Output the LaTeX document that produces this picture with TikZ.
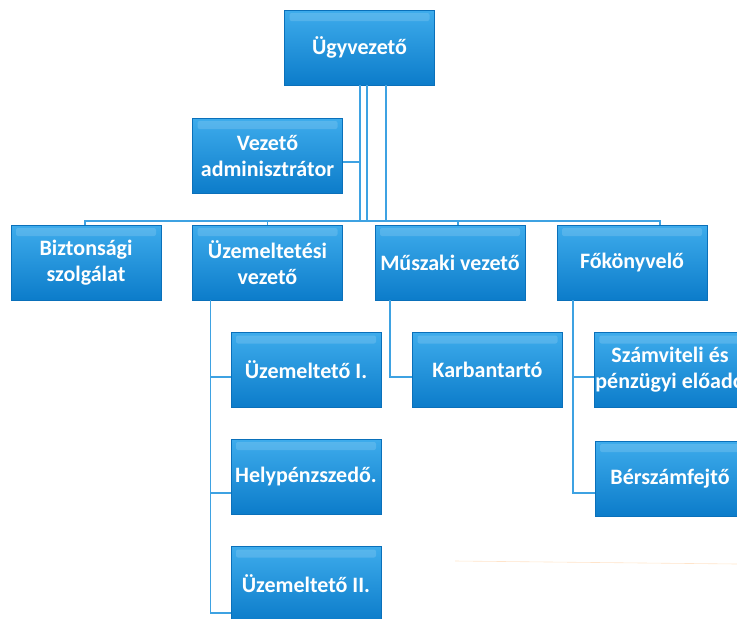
\documentclass[tikz,border=0pt]{standalone}
\usepackage{fontspec}
\setmainfont{Carlito}
\definecolor{boxtop}{RGB}{62,172,236}
\definecolor{boxmid}{RGB}{22,146,222}
\definecolor{boxbot}{RGB}{12,124,202}
\definecolor{boxedge}{RGB}{10,112,186}
\definecolor{linkblue}{RGB}{62,162,226}
\begin{document}
\begin{tikzpicture}[x=1pt,y=-1pt,
        unit/.style = {draw = boxedge, line width = 0.8pt,
            top color = boxtop, middle color = boxmid, bottom color = boxbot,
            minimum width = 150pt, minimum height = 75pt, inner sep = 1pt,
            align = center, text = white,
            font = \bfseries\fontsize{22}{26}\selectfont,
            path picture = {\fill[white, opacity = 0.14, rounded corners = 2pt]
                ([xshift = 5pt, yshift = -3pt]path picture bounding box.north west) rectangle
                ([xshift = -5pt, yshift = -11pt]path picture bounding box.north east);}},
        link/.style = {draw = linkblue, line width = 1.6pt}]
    \useasboundingbox (0,0) rectangle (737,619);
    \clip (0,0) rectangle (737,619);
    \coordinate (bus) at (360,221);
    \node[unit] (ugy) at (359.5,47.5) {Ügyvezető};
    \node[unit] (adm) at (267.5,155.5) {Vezető\\adminisztrátor};
    \node[unit] (bizt) at (86,262.5) {Biztonsági\\szolgálat};
    \node[unit] (uzvez) at (267.5,262.5) {Üzemeltetési\\vezető};
    \node[unit] (musz) at (450,262.5) {Műszaki vezető};
    \node[unit] (fok) at (632,262.5) {Főkönyvelő};
    \node[unit] (uz1) at (306,370) {Üzemeltető I.};
    \node[unit] (hely) at (306,476.5) {Helypénzszedő.};
    \node[unit] (uz2) at (306,584) {Üzemeltető II.};
    \node[unit] (karb) at (487.5,370) {Karbantartó};
    \node[unit] (szam) at (670,370) {Számviteli és\\pénzügyi előadó};
    \node[unit] (bers) at (670,478.5) {Bérszámfejtő};
    \begin{scope}[link]
        \draw ([xshift = 0.5pt]ugy.south) -- ([xshift = 0.5pt]ugy.south |- bus);
        \draw ([xshift = 7.5pt]ugy.south) -- ([xshift = 7.5pt]ugy.south |- bus);
        \draw ([xshift = 26.5pt]ugy.south) -- ([xshift = 26.5pt]ugy.south |- bus);
        \draw ([yshift = -6.5pt]adm.east) -- ([yshift = -6.5pt]adm.east -| bus);
        \draw ([xshift = -1pt]bizt.north) |- (bus) -| ([xshift = 28pt]fok.north);
        \draw (uzvez.north) -- (uzvez.north |- bus);
        \draw ([xshift = 8pt]musz.north) -- ([xshift = 8pt]musz.north |- bus);
        % hanging children
        \draw ([xshift = -57pt]uzvez.south) |- ([yshift = -29pt]uz2.west);
        \draw ([xshift = -57pt]uzvez.south |- uz1.west) ++(0,7) -- ([yshift = -7pt]uz1.west);
        \draw ([xshift = -57pt]uzvez.south |- hely.west) ++(0,16.5) -- ([yshift = -16.5pt]hely.west);
        \draw ([xshift = -60pt]musz.south) |- ([yshift = -7pt]karb.west);
        \draw ([xshift = -59pt]fok.south) |- ([yshift = -14.5pt]bers.west);
        \draw ([xshift = -59pt]fok.south |- szam.west) ++(0,7) -- ([yshift = -7pt]szam.west);
    \end{scope}
    \draw[orange!60, opacity = 0.35, line width = 0.6pt] (455,561) -- (737,564);
\end{tikzpicture}
\end{document}
